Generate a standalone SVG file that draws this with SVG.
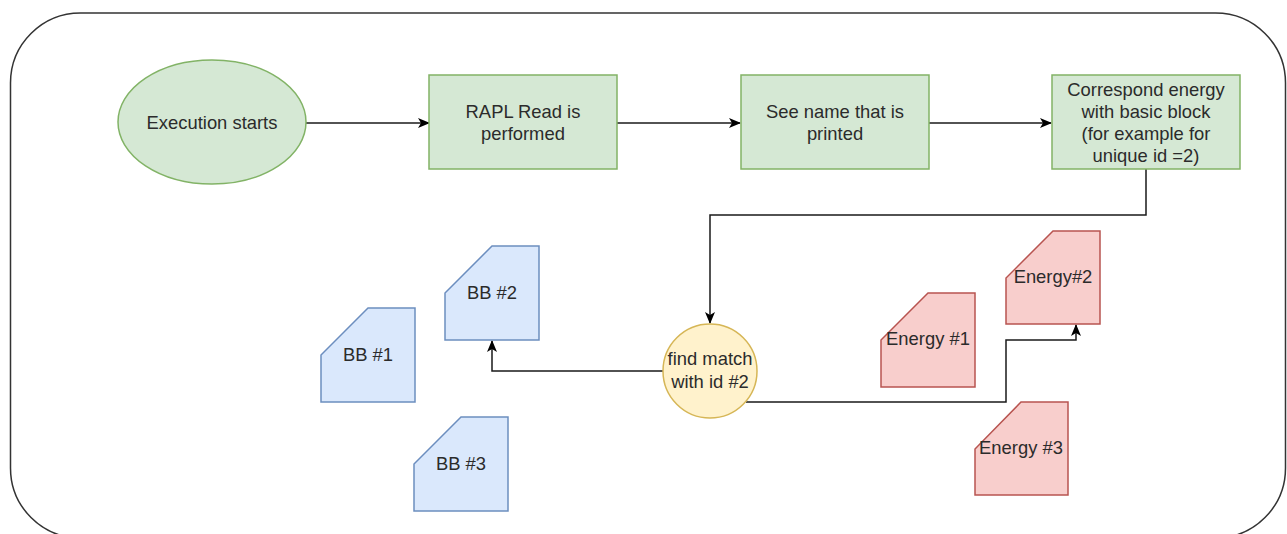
<svg xmlns="http://www.w3.org/2000/svg" width="1287" height="534" viewBox="0 0 1287 534">
<style>
text{font-family:"Liberation Sans",Arial,sans-serif;font-size:18.4px;fill:#2b2b2b;text-anchor:middle}
.green{fill:#d5e8d4;stroke:#82b366;stroke-width:1.5}
.blue{fill:#dae8fc;stroke:#6c8ebf;stroke-width:1.5}
.red{fill:#f8cecc;stroke:#b85450;stroke-width:1.5}
.yellow{fill:#fff2cc;stroke:#d6b656;stroke-width:1.5}
.edge{fill:none;stroke:#1a1a1a;stroke-width:1.5;marker-end:url(#arr)}
</style>
<defs>
<marker id="arr" viewBox="0 0 12 12" refX="11" refY="6" markerWidth="12" markerHeight="12" markerUnits="userSpaceOnUse" orient="auto">
<path d="M0,1 L12,6 L0,11 L3,6 z" fill="#000"/>
</marker>
</defs>
<rect width="1287" height="534" fill="#fff"/>
<g id="container">
<rect x="10.5" y="13" width="1275" height="525" rx="70" ry="70" fill="none" stroke="#333" stroke-width="1.5"/>
</g>
<g id="connectors">
<path class="edge" d="M306,123 L429,123"/>
<path class="edge" d="M617,123 L740,123"/>
<path class="edge" d="M929,123 L1051,123"/>
<path class="edge" d="M1146,169 L1146,215 L710,215 L710,323"/>
<path class="edge" d="M663,371 L492,371 L492,341"/>
<path class="edge" d="M746,402 L1006,402 L1006,340 L1076,340 L1076,325"/>
</g>
<g id="n-exec">
<ellipse class="green" cx="212" cy="122" rx="94" ry="62"/>
<text x="212" y="128.5">Execution starts</text>
</g>
<g id="n-rapl">
<rect class="green" x="429" y="75" width="188" height="94"/>
<text x="523" y="117.5">RAPL Read is</text>
<text x="523" y="140">performed</text>
</g>
<g id="n-see">
<rect class="green" x="741" y="75" width="188" height="94"/>
<text x="835" y="117.5">See name that is</text>
<text x="835" y="140">printed</text>
</g>
<g id="n-corr">
<rect class="green" x="1052" y="75" width="188" height="94"/>
<text x="1146" y="95.5">Correspond energy</text>
<text x="1146" y="117.5">with basic block</text>
<text x="1146" y="139.5">(for example for</text>
<text x="1146" y="161.5">unique id =2)</text>
</g>
<g id="n-find">
<circle class="yellow" cx="710" cy="371" r="47"/>
<text x="710" y="365">find match</text>
<text x="710" y="388">with id #2</text>
</g>
<g id="n-bb1">
<path class="blue" d="M368,308 L415,308 L415,402 L321,402 L321,355 z"/>
<text x="368" y="361">BB #1</text>
</g>
<g id="n-bb2">
<path class="blue" d="M492,246 L539,246 L539,340 L445,340 L445,293 z"/>
<text x="492" y="299">BB #2</text>
</g>
<g id="n-bb3">
<path class="blue" d="M461,417 L508,417 L508,511 L414,511 L414,464 z"/>
<text x="461" y="470">BB #3</text>
</g>
<g id="n-e1">
<path class="red" d="M928,293 L975,293 L975,387 L881,387 L881,340 z"/>
<text x="928" y="345">Energy #1</text>
</g>
<g id="n-e2">
<path class="red" d="M1053,231 L1100,231 L1100,324 L1006,324 L1006,278 z"/>
<text x="1053" y="283">Energy#2</text>
</g>
<g id="n-e3">
<path class="red" d="M1021,402 L1068,402 L1068,495 L975,495 L975,449 z"/>
<text x="1021" y="454">Energy #3</text>
</g>
</svg>
